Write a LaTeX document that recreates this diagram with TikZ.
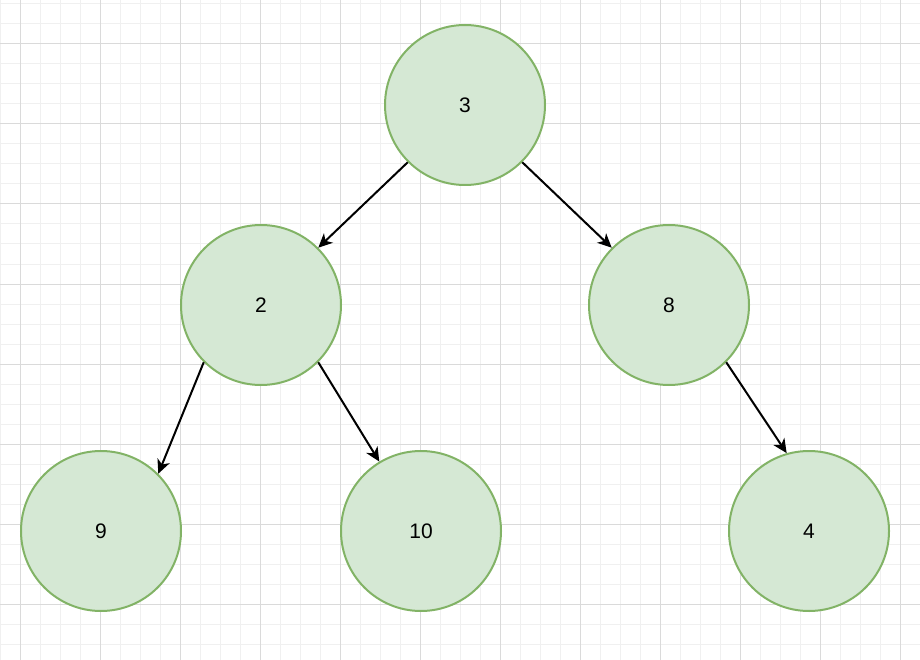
\documentclass[tikz,border=0pt]{standalone}
\usepackage{fontspec}
\setmainfont{Liberation Sans}
\usepackage{tikz}
\usetikzlibrary{arrows.meta}
\definecolor{nodefill}{HTML}{D5E8D4}
\definecolor{nodeline}{HTML}{82B366}
\definecolor{gridminor}{HTML}{F0F0F0}
\definecolor{gridmajor}{HTML}{DADADA}

\begin{document}
\begin{tikzpicture}[
  x=1pt, y=-1pt,
  treenode/.style={circle, draw=nodeline, fill=nodefill, line width=2pt,
                   minimum size=160pt, inner sep=0pt,
                   font=\fontsize{21}{24}\selectfont},
  arr/.style={-{Stealth[length=14pt, width=13pt, inset=4pt]}, line width=2pt}
]
  \useasboundingbox (0,0) rectangle (920,660);
  % background grid
  \foreach \x in {0,20,...,920} \draw[gridminor, line width=1pt] (\x,0) -- (\x,660);
  \foreach \y in {4,24,...,660} \draw[gridminor, line width=1pt] (0,\y) -- (920,\y);
  \foreach \x in {20,100,...,920} \draw[gridmajor, line width=1pt] (\x,0) -- (\x,660);
  \foreach \y in {44,124,...,660} \draw[gridmajor, line width=1pt] (0,\y) -- (920,\y);

  \node[treenode] (n3) at (465,105) {3};
  \node[treenode] (n2) at (261,305) {2};
  \node[treenode] (n8) at (669,305) {8};
  \node[treenode] (n9) at (101,531) {9};
  \node[treenode] (n10) at (421,531) {10};
  \node[treenode] (n4) at (809,531) {4};

  \draw[arr] (n3.225) -- (n2.45);
  \draw[arr] (n3.315) -- (n8.135);
  \draw[arr] (n2.225) -- (n9.45);
  \draw[arr] (n2.315) -- (n10.121);
  \draw[arr] (n8.315) -- (n4.106);
\end{tikzpicture}
\end{document}
